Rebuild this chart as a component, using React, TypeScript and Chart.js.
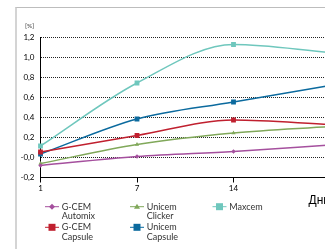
import React, { useEffect, useRef } from 'react';
import { Chart, registerables } from 'chart.js';

Chart.register(...registerables);

// ---- data ----
const days = ['1', '7', '14', '21'];
const gcemAutomix = [-0.08, 0.01, 0.06, 0.125];
const unicemClicker = [-0.06, 0.13, 0.245, 0.31];
const maxcem = [0.115, 0.745, 1.13, 1.05];
const gcemCapsule = [0.055, 0.22, 0.375, 0.33];
const unicemCapsule = [0.035, 0.385, 0.555, 0.72];

const seriesNames = [
  ['G-CEM', 'Automix'],
  ['Unicem', 'Clicker'],
  ['Maxcem'],
  ['G-CEM', 'Capsule'],
  ['Unicem', 'Capsule'],
];
const yMin = -0.2;
const yMax = 1.2;
const yStep = 0.2;
const yUnit = '[%]';
const xTitle = 'Дни';

const FONT = 'Lato, "Open Sans", sans-serif';

const legendPlugin = {
  id: 'customLegend',
  afterDraw(chart: any) {
    const ctx = chart.ctx;
    const { left, top, bottom } = chart.chartArea;
    ctx.save();
    // unit label
    ctx.fillStyle = '#444';
    ctx.font = `6.5px ${FONT}`;
    ctx.textAlign = 'left';
    ctx.textBaseline = 'middle';
    ctx.fillText(yUnit, left - 15.5, top - 11.5);

    const colX = [0, 85, 167.5];
    chart.data.datasets.forEach((ds: any, i: number) => {
      const col = i % 3;
      const row = Math.floor(i / 3);
      const x0 = left + 4.5 + colX[col];
      const y0 = bottom + 29.2 + row * 20.6;
      const cx = x0 + 7;
      ctx.strokeStyle = ds.borderColor;
      ctx.lineWidth = 1;
      ctx.beginPath();
      ctx.moveTo(x0, y0);
      ctx.lineTo(x0 + 14, y0);
      ctx.stroke();
      ctx.fillStyle = ds.borderColor;
      const st = ds.pointStyle;
      ctx.beginPath();
      if (st === 'rect') {
        ctx.rect(cx - 3.5, y0 - 3.5, 7, 7);
      } else if (st === 'rectRot') {
        ctx.moveTo(cx, y0 - 3);
        ctx.lineTo(cx + 3, y0);
        ctx.lineTo(cx, y0 + 3);
        ctx.lineTo(cx - 3, y0);
        ctx.closePath();
      } else if (st === 'triangle') {
        ctx.moveTo(cx, y0 - 3);
        ctx.lineTo(cx + 3, y0 + 2);
        ctx.lineTo(cx - 3, y0 + 2);
        ctx.closePath();
      }
      ctx.fill();
      ctx.fillStyle = '#333';
      ctx.font = `9px ${FONT}`;
      ctx.textAlign = 'left';
      ctx.textBaseline = 'middle';
      const lines: string[] = Array.isArray(ds.label) ? ds.label : [ds.label];
      lines.forEach((t, k) => ctx.fillText(t, x0 + 16.7, y0 + k * 9.3));
    });
    ctx.restore();
  },
};

export default function App() {
  const ref = useRef<HTMLCanvasElement>(null);
  useEffect(() => {
    if (!ref.current) return;
    const mk = (label: string[], data: number[], color: string, pointStyle: string, r: number) => ({
      label: label as any,
      data,
      borderColor: color,
      backgroundColor: color,
      borderWidth: 1.5,
      pointStyle,
      pointRadius: r,
      pointBorderWidth: 0,
      pointBackgroundColor: color,
      cubicInterpolationMode: 'monotone',
      fill: false,
    });
    const chart = new Chart(ref.current, {
      type: 'line',
      data: {
        labels: days,
        datasets: [
          mk(seriesNames[0], gcemAutomix, '#a5509e', 'rectRot', 2.2),
          mk(seriesNames[1], unicemClicker, '#80a85a', 'triangle', 2.4),
          mk(seriesNames[2], maxcem, '#6fc7bd', 'rect', 3.4),
          mk(seriesNames[3], gcemCapsule, '#c0202f', 'rect', 3.4),
          mk(seriesNames[4], unicemCapsule, '#0b6a9e', 'rect', 3.4),
        ] as any,
      },
      options: {
        responsive: false,
        maintainAspectRatio: false,
        devicePixelRatio: 1,
        animation: false,
        layout: { padding: { top: 37.5, left: 0, right: 30, bottom: 40 } },
        plugins: { legend: { display: false }, tooltip: { enabled: false } },
        scales: {
          x: {
            type: 'category',
            offset: false,
            afterFit: (s: any) => { s.height = 31.5; },
            grid: { display: true, drawOnChartArea: false, drawTicks: true, tickLength: 5, color: '#000' },
            border: { display: true, color: '#000', width: 1 },
            ticks: { color: '#000', font: { family: FONT, size: 8 }, padding: 1, maxRotation: 0, autoSkip: false },
            title: { display: true, text: xTitle, align: 'end', color: '#000', font: { family: '"Liberation Sans", Arial, sans-serif', size: 12 }, padding: { top: 0, bottom: 1 } },
          },
          y: {
            min: yMin,
            max: yMax,
            afterFit: (s: any) => { s.width = 40.5; },
            grid: { color: '#222', lineWidth: 1, drawTicks: false },
            border: { display: true, color: '#000', width: 1, dash: [1, 1] },
            ticks: {
              stepSize: yStep,
              color: '#000',
              padding: 6,
              font: { family: FONT, size: 8 },
              callback: (v: any) => Number(v).toFixed(1).replace('.', ','),
            },
          },
        },
      },
      plugins: [legendPlugin],
    });
    return () => chart.destroy();
  }, []);

  return (
    <div style={{ position: 'absolute', left: 0, top: 0, width: 325, height: 249, overflow: 'hidden', background: '#fff' }}>
      <div style={{ position: 'absolute', left: 15, top: 7, width: 400, height: 300, borderTop: '1px solid #bdbdbd', borderLeft: '2px solid #d4d4d4' }} />
      <canvas ref={ref} width={360} height={249} style={{ position: 'absolute', left: 0, top: 0, width: 360, height: 249 }} />
    </div>
  );
}
